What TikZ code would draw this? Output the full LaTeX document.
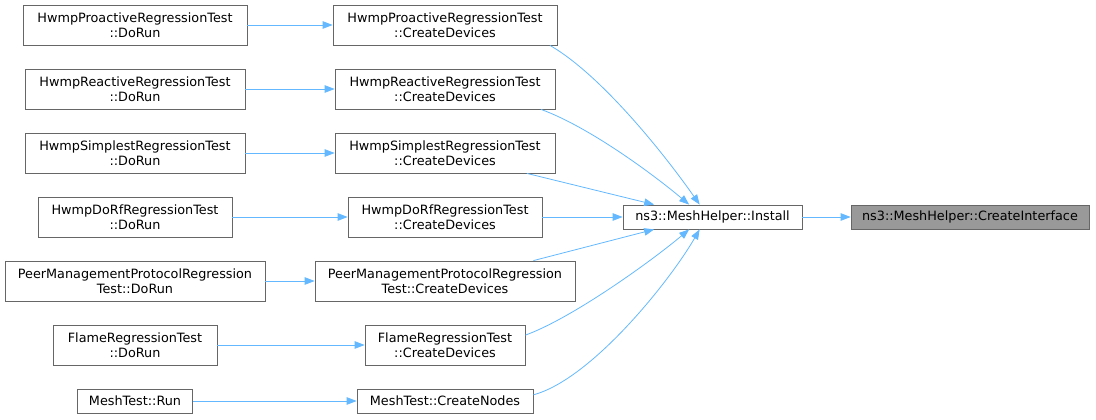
\documentclass[tikz,border=0pt]{standalone}
\usepackage{fontspec}
\setmainfont{DejaVu Sans}
\usetikzlibrary{arrows.meta}
\definecolor{edgeblue}{HTML}{63B8FF}
\definecolor{boxgray}{HTML}{666666}
\definecolor{hlgray}{HTML}{999999}

\begin{document}
\begin{tikzpicture}[x=1pt, y=1pt,
    fn/.style={draw=boxgray, fill=white, line width=0.8pt, align=center, inner sep=0pt,
               font=\fontsize{12.8}{15.5}\selectfont},
    call/.style={draw=edgeblue, line width=0.8pt, -{Triangle[length=10pt, width=7.5pt]}}]
    \useasboundingbox (0,0) rectangle (1096,-420);

    % Вызывающие функции DoRun / Run
    \foreach \y/\w/\h/\name/\txt in {
        25/224/40/pdr/{HwmpProactiveRegressionTest\\::DoRun},
        89/220/40/rdr/{HwmpReactiveRegressionTest\\::DoRun},
        153/220/40/sdr/{HwmpSimplestRegressionTest\\::DoRun},
        217/194/40/ddr/{HwmpDoRfRegressionTest\\::DoRun},
        281/260/40/mdr/{PeerManagementProtocolRegression\\Test::DoRun},
        345/164/40/fdr/{FlameRegressionTest\\::DoRun},
        401/115/24/nrun/{MeshTest::Run}} {
        \node[fn, minimum width=\w pt, minimum height=\h pt] (\name) at (135,-\y) {\txt};
    }
    % Функции CreateDevices / CreateNodes
    \foreach \y/\w/\h/\name/\txt in {
        25/224/40/pcd/{HwmpProactiveRegressionTest\\::CreateDevices},
        89/220/40/rcd/{HwmpReactiveRegressionTest\\::CreateDevices},
        153/220/40/scd/{HwmpSimplestRegressionTest\\::CreateDevices},
        217/194/40/dcd/{HwmpDoRfRegressionTest\\::CreateDevices},
        281/260/40/mcd/{PeerManagementProtocolRegression\\Test::CreateDevices},
        345/160/40/fcd/{FlameRegressionTest\\::CreateDevices},
        401/176/24/ncd/{MeshTest::CreateNodes}} {
        \node[fn, minimum width=\w pt, minimum height=\h pt] (\name) at (445,-\y) {\txt};
    }
    \node[fn, minimum width=179pt, minimum height=24pt] (inst) at (712.5,-217) {ns3::MeshHelper::Install};
    \node[fn, fill=hlgray, minimum width=238pt, minimum height=24pt] (ci) at (970,-217) {ns3::MeshHelper::CreateInterface};

    % Прямые вызовы слева направо
    \foreach \a/\b in {pdr/pcd, rdr/rcd, sdr/scd, ddr/dcd, mdr/mcd, fdr/fcd, nrun/ncd} {
        \draw[call] (\a) -- (\b);
    }

    % Вызовы Install
    \draw[call] (pcd.-11) .. controls +(-30:60) and +(125:60) .. (inst.136);
    \draw[call] (rcd.-12) .. controls +(-20:50) and +(140:50) .. (inst.152);
    \draw[call] (scd.-14) -- (inst.168);
    \draw[call] (dcd) -- (inst);
    \draw[call] (mcd.13) -- (inst.-168);
    \draw[call] (fcd.7) .. controls +(20:50) and +(-140:50) .. (inst.-152);
    \draw[call] (ncd.4) .. controls +(15:60) and +(-120:60) .. (inst.-136);
    \draw[call] (inst) -- (ci);

\end{tikzpicture}
\end{document}
